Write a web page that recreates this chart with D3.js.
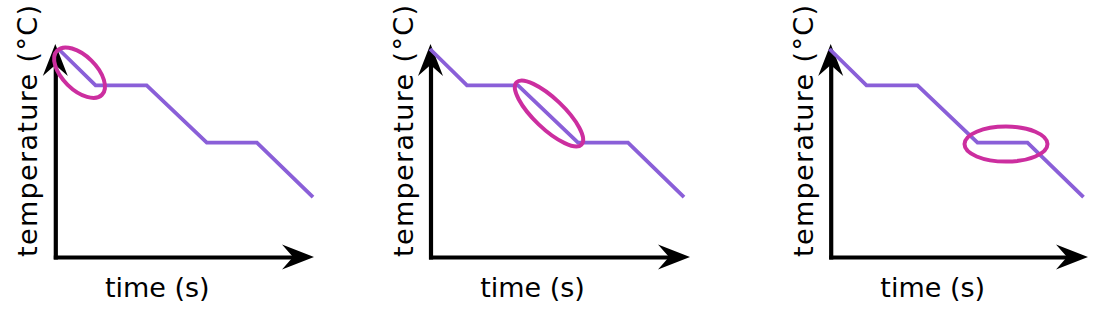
<!DOCTYPE html>
<html><head><meta charset="utf-8">
<script src="https://cdn.jsdelivr.net/npm/d3@7"></script>
<style>body{margin:0;background:#fff}svg{display:block}</style></head>
<body>
<svg id="chart" width="1107" height="313"></svg>
<script>
// ---- data ----
const times = [0, 3.7, 8.8, 14.8, 19.8, 25.4];      // time (s), relative
const temps = [80, 66, 66, 44, 44, 23];             // temperature (°C), relative
const highlightSegments = [0, 2, 3];                // segment circled in each panel
const xLabel = "time (s)";
const yLabel = "temperature (°C)";

// ---- layout (positions/styles only) ----
const panels = [
  {axisX: 55.3, lineX0: 58.5, lineW: 254.5, tip: 314, ell: {pad: 5.5, ry: 17, dx: 2.5, dy: 5.5}},
  {axisX: 430.5, lineX0: 430, lineW: 254, tip: 690, ell: {pad: 3.5, ry: 15, dx: 1, dy: -0.5}},
  {axisX: 830.7, lineX0: 829.5, lineW: 254, tip: 1088, ell: {pad: 16.5, ry: 17.5, dx: 3.5, dy: 1.5}}
];
const axisY = 257, yTip = 44;
const lineColor = "#8a5fd8", ellColor = "#cc2e9f";

const svg = d3.select("#chart");
const arrowPath = "M0,0 L-32,-12.5 L-21,0 L-32,12.5 Z";

panels.forEach((p, i) => {
  const g = svg.append("g");
  const x = d3.scaleLinear().domain([0, d3.max(times)]).range([p.lineX0, p.lineX0 + p.lineW]);
  const y = d3.scaleLinear().domain([0, 100]).range([axisY, axisY - 260]);

  // axes (no ticks), via d3 axes
  const xa = d3.scaleLinear().domain([0, 1]).range([p.axisX - 2, p.tip - 12]);
  const ya = d3.scaleLinear().domain([0, 1]).range([axisY + 2, yTip + 14]);
  const gx = g.append("g").attr("transform", `translate(0,${axisY})`)
    .call(d3.axisBottom(xa).tickValues([]).tickSizeOuter(0));
  const gy = g.append("g").attr("transform", `translate(${p.axisX},0)`)
    .call(d3.axisLeft(ya).tickValues([]).tickSizeOuter(0));
  [gx, gy].forEach(a => a.select(".domain").attr("stroke", "#000").attr("stroke-width", 4.2));

  g.append("path").attr("d", arrowPath).attr("fill", "#000")
    .attr("transform", `translate(${p.tip},${axisY})`);
  g.append("path").attr("d", arrowPath).attr("fill", "#000")
    .attr("transform", `translate(${p.axisX},${yTip}) rotate(-90)`);

  // line
  const pts = times.map((t, k) => [t, temps[k]]);
  g.append("path").datum(pts)
    .attr("d", d3.line().x(d => x(d[0])).y(d => y(d[1])))
    .attr("fill", "none").attr("stroke", lineColor).attr("stroke-width", 3.8)
    .attr("stroke-linejoin", "miter");

  // highlight ellipse
  const s = highlightSegments[i];
  const x0 = x(times[s]), y0 = y(temps[s]), x1 = x(times[s + 1]), y1 = y(temps[s + 1]);
  const cx = (x0 + x1) / 2 + p.ell.dx, cy = (y0 + y1) / 2 + p.ell.dy;
  const ang = Math.atan2(y1 - y0, x1 - x0) * 180 / Math.PI;
  const half = Math.hypot(x1 - x0, y1 - y0) / 2;
  g.append("ellipse")
    .attr("cx", 0).attr("cy", 0).attr("rx", half + p.ell.pad).attr("ry", p.ell.ry)
    .attr("transform", `translate(${cx},${cy}) rotate(${ang})`)
    .attr("fill", "none").attr("stroke", ellColor).attr("stroke-width", 4);

  // labels
  g.append("text").text(xLabel)
    .attr("x", p.axisX + 102).attr("y", 297)
    .attr("text-anchor", "middle")
    .attr("font-family", "DejaVu Sans").attr("font-size", 27).attr("fill", "#000");
  g.append("text").text(yLabel)
    .attr("transform", `translate(${p.axisX - 18},131) rotate(-90)`)
    .attr("text-anchor", "middle")
    .attr("textLength", 252).attr("lengthAdjust", "spacing")
    .attr("font-family", "DejaVu Sans").attr("font-size", 27).attr("fill", "#000");
});
</script>
</body></html>
